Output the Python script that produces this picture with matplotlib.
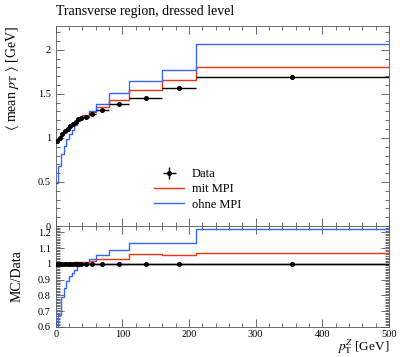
import numpy as np
import matplotlib
matplotlib.use("Agg")
import matplotlib.pyplot as plt
from matplotlib.ticker import MultipleLocator, FuncFormatter

plt.rcParams['font.family'] = ['Liberation Serif', 'DejaVu Serif']
plt.rcParams['mathtext.fontset'] = 'stix'

# ---- data ----
edges = [0, 4, 8, 12, 16, 20, 24, 28, 32, 36, 40, 50, 60, 80, 110, 160, 210, 500]
data_vals = [0.96, 1.00, 1.04, 1.075, 1.105, 1.135, 1.16, 1.185, 1.21, 1.225,
             1.24, 1.27, 1.315, 1.386, 1.455, 1.568, 1.693]
data_errs = [0.005, 0.005, 0.005, 0.005, 0.005, 0.005, 0.005, 0.005, 0.005, 0.005,
             0.006, 0.006, 0.007, 0.008, 0.010, 0.015, 0.022]
mit_mpi = [0.95, 1.00, 1.043, 1.08, 1.11, 1.143, 1.17, 1.197, 1.222, 1.24,
           1.258, 1.295, 1.352, 1.43, 1.548, 1.66, 1.808]
ohne_mpi = [0.49, 0.677, 0.82, 0.91, 0.982, 1.045, 1.094, 1.142, 1.19, 1.213,
            1.24, 1.31, 1.385, 1.505, 1.65, 1.772, 2.066]
labels = ["Data", "mit MPI", "ohne MPI"]
title = "Transverse region, dressed level"

edges_a = np.array(edges, dtype=float)
centers = 0.5 * (edges_a[:-1] + edges_a[1:])
xerr = 0.5 * (edges_a[1:] - edges_a[:-1])
d = np.array(data_vals)
de = np.array(data_errs)
mit = np.array(mit_mpi)
ohne = np.array(ohne_mpi)

red = '#EE3311'
blue = '#3366FF'

fig = plt.figure(figsize=(4.0, 3.57), dpi=100)
L, R = 55.7 / 400, 389 / 400
ax = fig.add_axes([L, 1 - 226 / 357, R - L, (226 - 26) / 357])
rx = fig.add_axes([L, 1 - 327 / 357, R - L, (327 - 226) / 357], sharex=ax)

def step(axis, vals, color, lw=1.0, label=None):
    y = np.append(vals, vals[-1])
    axis.step(edges_a, y, where='post', color=color, lw=lw, label=label)

# main panel
step(ax, mit, red, label=labels[1])
step(ax, ohne, blue, label=labels[2])
ax.errorbar(centers, d, xerr=xerr, yerr=de, fmt='o', color='black', ms=2.6,
            lw=1.0, capsize=0, label=labels[0], zorder=5)
ax.set_xlim(0, 500)
ax.set_ylim(0, 2.27)

# ratio panel
step(rx, d / d, 'black')
step(rx, mit / d, red)
step(rx, ohne / d, blue)
rx.errorbar(centers, d / d, xerr=xerr, yerr=de / d, fmt='o', color='black', ms=2.6,
            lw=1.0, capsize=0, zorder=5)
rx.set_ylim(0.6, 1.24)

for a in (ax, rx):
    a.tick_params(which='both', direction='in', top=True, right=True,
                  labelsize=7.5, width=0.6, color='#555555')
    a.tick_params(which='major', length=6)
    a.tick_params(which='minor', length=3)
    a.tick_params(axis='x', pad=2)
    a.xaxis.set_major_locator(MultipleLocator(100))
    a.xaxis.set_minor_locator(MultipleLocator(20))
    for s in a.spines.values():
        s.set_linewidth(0.6)
        s.set_color('#555555')

ax.yaxis.set_major_locator(MultipleLocator(0.5))
ax.yaxis.set_minor_locator(MultipleLocator(0.1))
ax.yaxis.set_major_formatter(FuncFormatter(lambda v, p: '%g' % round(v, 3)))
rx.yaxis.set_major_locator(MultipleLocator(0.1))
rx.yaxis.set_minor_locator(MultipleLocator(0.01))
rx.yaxis.set_major_formatter(FuncFormatter(lambda v, p: '%g' % round(v, 3)))
plt.setp(ax.get_xticklabels(), visible=False)

# legend
h, l = ax.get_legend_handles_labels()
order = [l.index(x) for x in labels]
ax.legend([h[i] for i in order], [l[i] for i in order], loc='upper left',
          bbox_to_anchor=(0.262, 0.345), frameon=False, fontsize=9,
          handlelength=2.4, handletextpad=0.6, labelspacing=0.25)

fig.text(L, 1 - 18 / 357, title, fontsize=10, ha='left', va='bottom')
fig.text(13 / 400, 1 - 26 / 357, r'$\langle$ mean $p_\mathrm{T}$ $\rangle$ [GeV]', rotation=90,
         ha='center', va='top', fontsize=10)
fig.text(17 / 400, 1 - 276.5 / 357, 'MC/Data', rotation=90, ha='center',
         va='center', fontsize=10)
fig.text(R, 1 / 357, r'$p_\mathrm{T}^Z$ [GeV]', ha='right', va='bottom',
         fontsize=9.5)

fig.savefig('out.png', dpi=100)
